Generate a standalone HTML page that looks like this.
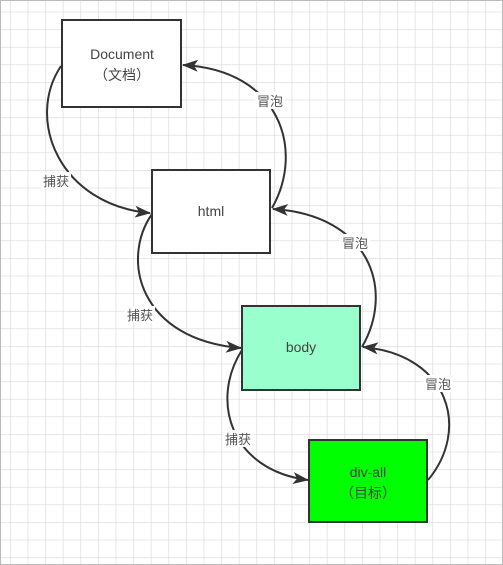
<!DOCTYPE html>
<html><head><meta charset="utf-8"><style>
html,body{margin:0;padding:0;width:503px;height:565px;overflow:hidden;background:#fff}
</style></head><body>
<svg width="503" height="565" xmlns="http://www.w3.org/2000/svg" style="display:block">
<defs>
<pattern id="g" x="10" y="11.7" width="17.6" height="17.6" patternUnits="userSpaceOnUse">
<path d="M0 0H17.6M0 0V17.6" stroke="#d9d9d9" stroke-width="1.3" fill="none"/>
</pattern>
<marker id="a" markerWidth="16" markerHeight="12" refX="15" refY="6" orient="auto" markerUnits="userSpaceOnUse">
<path d="M0,0 L16,6 L0,12 L4,6 Z" fill="#333"/>
</marker>
</defs>
<rect width="503" height="565" fill="url(#g)"/>
<rect x="0.5" y="0.5" width="502" height="564" fill="none" stroke="#bbb"/>
<g fill="none" stroke="#333" stroke-width="2">
<path d="M61,66 C25,120 60,205 150,213" marker-end="url(#a)"/>
<path d="M272,208 C305,150 280,70 183,65" marker-end="url(#a)"/>
<path d="M152,214 C120,260 140,340 241,348" marker-end="url(#a)"/>
<path d="M362,347 C395,290 370,215 273,209" marker-end="url(#a)"/>
<path d="M242,350 C210,400 230,470 308,480" marker-end="url(#a)"/>
<path d="M428,480 C470,430 450,355 363,347" marker-end="url(#a)"/>
</g>
<g stroke="#333" stroke-width="2">
<rect x="62" y="20" width="119" height="87" fill="#fff"/>
<rect x="152" y="170" width="118" height="83" fill="#fff"/>
<rect x="242" y="306" width="118" height="84" fill="#99ffcc"/>
<rect x="309" y="440" width="118" height="82" fill="#00ff00"/>
</g>
<g font-family="Liberation Sans, Noto Sans CJK SC, sans-serif" font-size="14" fill="#444" text-anchor="middle">
<text x="122" y="59">Document</text>
<text x="122" y="80">（文档）</text>
<text x="211" y="216">html</text>
<text x="301" y="352">body</text>
<text x="368" y="477">div-all</text>
<text x="368" y="498">（目标）</text>
</g>
<g font-family="Liberation Sans, Noto Sans CJK SC, sans-serif" font-size="13" fill="#555" text-anchor="middle">
<rect x="41" y="172" width="30" height="17" fill="#fff"/><text x="56" y="186">捕获</text>
<rect x="255" y="92" width="30" height="17" fill="#fff"/><text x="270" y="106">冒泡</text>
<rect x="125" y="306" width="30" height="17" fill="#fff"/><text x="140" y="320">捕获</text>
<rect x="340" y="234" width="30" height="17" fill="#fff"/><text x="355" y="248">冒泡</text>
<rect x="223" y="430" width="30" height="17" fill="#fff"/><text x="238" y="444">捕获</text>
<rect x="423" y="375" width="30" height="17" fill="#fff"/><text x="438" y="389">冒泡</text>
</g>
</svg>
</body></html>
